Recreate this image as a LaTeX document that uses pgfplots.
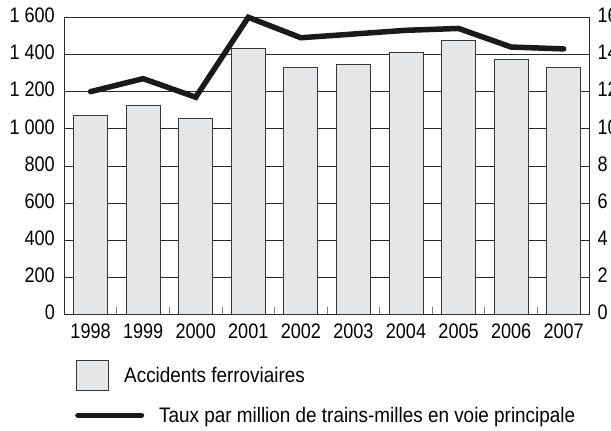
\documentclass[border=0pt]{standalone}
\usepackage{fontspec}
\setmainfont[FakeStretch=0.9]{Liberation Sans}
\newfontfamily\tickfont[FakeStretch=0.86]{Liberation Sans}
\usepackage{pgfplots}
\pgfplotsset{compat=1.18}
\definecolor{barfill}{RGB}{229,230,232}
\definecolor{bardraw}{RGB}{55,55,55}
\definecolor{gridc}{RGB}{40,40,40}
\definecolor{linec}{RGB}{26,26,26}
\begin{document}
\begin{tikzpicture}
\pgfplotsset{
  common/.style={
    scale only axis, width=525.7bp, height=297.4bp,
    xmin=-0.5, xmax=9.5,
    /pgf/number format/assume math mode=true,
    tick label style={font=\fontsize{21bp}{25bp}\selectfont\tickfont, inner sep=0pt},
    major tick length=0pt,
    axis line style={draw=gridc, line width=1bp},
  }
}
\begin{axis}[common, name=ax,
  ymin=0, ymax=1600, ytick={0,200,...,1600},
  ytick pos=left,
  ymajorgrids, major grid style={draw=gridc, line width=0.8bp},
  yticklabel style={xshift=-9.3bp, yshift=2bp},
  /pgf/number format/1000 sep={\ },
  xtick={0,...,9}, xticklabels={1998,1999,2000,2001,2002,2003,2004,2005,2006,2007},
  xticklabel style={yshift=-9.3bp},
  xtick pos=bottom,
  minor xtick={0.5,1.5,...,8.5},
  minor tick length=8bp,
  minor tick style={draw=gray, line width=0.8bp},
  extra y ticks={0}, extra y tick labels={},
  extra y tick style={grid style={draw=black, line width=2bp}},
  legend style={at={(0,0)}, anchor=north west, xshift=10.7bp, yshift=-44.8bp,
    draw=none, fill=none, inner sep=0pt, column sep=15bp, row sep=16.4bp,
    font=\fontsize{21bp}{25bp}\selectfont, nodes={inner sep=0pt}},
  legend cell align=left,
]
\addplot[ybar, bar width=34bp, fill=barfill, draw=bardraw, line width=0.9bp,
  legend image code/.code={\draw[fill=barfill, draw=bardraw, line width=0.9bp] (1bp,-15bp) rectangle (33bp,15bp);}]
  coordinates {(0,1072) (1,1126) (2,1054) (3,1430) (4,1332) (5,1349) (6,1409) (7,1473) (8,1375) (9,1328)};
\addlegendentry{\hspace{-35bp}Accidents ferroviaires}
\addlegendimage{legend image code/.code={\draw[linec, line width=5.5bp, line cap=round] (2.75bp,0bp) -- (66.25bp,0bp);}}
\addlegendentry{Taux par million de trains-milles en voie principale}
\end{axis}
\begin{axis}[common, at={(ax.south west)}, anchor=south west,
  ymin=0, ymax=16, ytick={0,2,...,16},
  axis y line*=right, axis x line=none,
  yticklabel style={xshift=7.5bp, yshift=2bp},
  clip=false,
]
\addplot[linec, line width=5.5bp, line cap=round, line join=miter]
  coordinates {(0,12.0) (1,12.7) (2,11.7) (3,16.0) (4,14.9) (5,15.1) (6,15.3) (7,15.4) (8,14.4) (9,14.3)};
\end{axis}
\pgfresetboundingbox
\path[use as bounding box] (ax.south west) ++(-64.3bp,-116.3bp) rectangle ++(611bp,431bp);
\end{tikzpicture}
\end{document}
